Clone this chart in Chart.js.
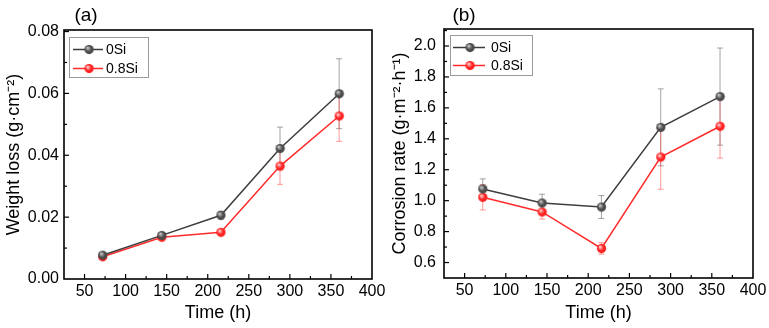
<!DOCTYPE html>
<html>
<head>
<meta charset="utf-8">
<script src="https://cdn.jsdelivr.net/npm/chart.js@4.4.1/dist/chart.umd.min.js"></script>
<style>
  html, body { margin:0; padding:0; background:#fff; }
  .wrap { position:relative; width:769px; height:328px; overflow:hidden; }
  canvas { position:absolute; top:0; }
</style>
</head>
<body>
<div class="wrap">
  <canvas id="chartA" width="385" height="328" style="left:0"></canvas>
  <canvas id="chartB" width="384" height="328" style="left:385px"></canvas>
</div>
<script>
// ---- данные ----
const times = [72, 144, 216, 288, 360];
const seriesNames = ['0Si', '0.8Si'];

const lossSi0    = [0.0077, 0.0141, 0.0206, 0.0422, 0.0599];
const lossSi0Err = [0.0004, 0.0006, 0.0013, 0.0069, 0.0113];
const lossSi8    = [0.0072, 0.0135, 0.0151, 0.0365, 0.0527];
const lossSi8Err = [0.0004, 0.0005, 0.0006, 0.0059, 0.0082];

const rateSi0    = [1.076, 0.985, 0.959, 1.474, 1.673];
const rateSi0Err = [0.065, 0.057, 0.074, 0.249, 0.314];
const rateSi8    = [1.022, 0.927, 0.691, 1.282, 1.481];
const rateSi8Err = [0.082, 0.046, 0.037, 0.208, 0.206];

const xTickLabels    = [50, 100, 150, 200, 250, 300, 350, 400];
const lossTickLabels = [0, 0.02, 0.04, 0.06, 0.08];
const rateTickLabels = [0.6, 0.8, 1.0, 1.2, 1.4, 1.6, 1.8, 2.0];

const FONT = "'Liberation Sans', Arial, sans-serif";
const ink = '#000';
const grayLine = '#3d3d3d';
const redLine = '#ff2b2b';

// маркеры-шарики
function sphere(base, light, r) {
  const c = document.createElement('canvas');
  c.width = c.height = r * 2 + 2;
  const g = c.getContext('2d');
  const cx = r + 1, cy = r + 1;
  const grd = g.createRadialGradient(cx - r * 0.35, cy - r * 0.4, r * 0.1, cx, cy, r);
  grd.addColorStop(0, light);
  grd.addColorStop(0.6, base);
  grd.addColorStop(1, base);
  g.fillStyle = grd;
  g.beginPath(); g.arc(cx, cy, r, 0, Math.PI * 2); g.fill();
  return c;
}
const dotGray = sphere('#4a4a4a', '#c8c8c8', 4.6);
const dotRed  = sphere('#ff2020', '#ffd0d0', 4.6);

const pts = vals => times.map((t, i) => ({ x: t, y: vals[i] }));
const isMajor = (v, list) => list.some(m => Math.abs(m - v) < 1e-9);

// рамка, внутренние тики, планки погрешностей, легенда, подпись панели
const decor = {
  id: 'decor',
  beforeDatasetsDraw(chart) {
    const ctx = chart.ctx, xs = chart.scales.x, ys = chart.scales.y;
    chart.data.datasets.forEach(ds => {
      if (!ds.err) return;
      ctx.save();
      ctx.strokeStyle = ds.errColor;
      ctx.lineWidth = 1;
      ds.data.forEach((p, i) => {
        const x = xs.getPixelForValue(p.x);
        const y1 = ys.getPixelForValue(p.y + ds.err[i]);
        const y2 = ys.getPixelForValue(p.y - ds.err[i]);
        ctx.beginPath();
        ctx.moveTo(x, y1); ctx.lineTo(x, y2);
        ctx.moveTo(x - 3, y1); ctx.lineTo(x + 3, y1);
        ctx.moveTo(x - 3, y2); ctx.lineTo(x + 3, y2);
        ctx.stroke();
      });
      ctx.restore();
    });
  },
  afterDraw(chart, _a, o) {
    const ctx = chart.ctx, a = chart.chartArea;
    const xs = chart.scales.x, ys = chart.scales.y;
    ctx.save();
    ctx.strokeStyle = ink;
    ctx.lineWidth = 1.2;
    // тики внутрь
    xs.ticks.forEach(t => {
      const x = xs.getPixelForValue(t.value);
      if (x <= a.left + 1 || x >= a.right - 1) return;
      const len = t.label !== '' ? 5 : 3;
      ctx.beginPath(); ctx.moveTo(x, a.bottom); ctx.lineTo(x, a.bottom - len); ctx.stroke();
    });
    ys.ticks.forEach(t => {
      const y = ys.getPixelForValue(t.value);
      if (y >= a.bottom - 1 || y <= a.top + 1) return;
      const len = t.label !== '' ? 5 : 3;
      ctx.beginPath(); ctx.moveTo(a.left, y); ctx.lineTo(a.left + len, y); ctx.stroke();
    });
    // рамка
    ctx.lineWidth = 1.6;
    ctx.strokeRect(a.left, a.top, a.right - a.left, a.bottom - a.top);

    // легенда
    const L = o.legend;
    const bx = a.left + L.dx, by = a.top + L.dy;
    ctx.lineWidth = 1;
    ctx.strokeStyle = '#9a9a9a';
    ctx.strokeRect(bx + 0.5, by + 0.5, L.w, L.h);
    chart.data.datasets.forEach((ds, i) => {
      const y = by + L.rows[i];
      ctx.strokeStyle = ds.borderColor;
      ctx.lineWidth = 1.5;
      ctx.beginPath(); ctx.moveTo(bx + L.l0, y); ctx.lineTo(bx + L.l1, y); ctx.stroke();
      const img = ds.pointStyle;
      ctx.drawImage(img, bx + L.mx - img.width / 2, y - img.height / 2);
      ctx.fillStyle = ink;
      ctx.font = `14px ${FONT}`;
      ctx.textBaseline = 'middle';
      ctx.fillText(ds.label, bx + L.tx, y + 1);
    });

    // (a) / (b)
    ctx.fillStyle = ink;
    ctx.font = `19px ${FONT}`;
    ctx.textAlign = 'center';
    ctx.textBaseline = 'middle';
    ctx.fillText(o.tag, o.tagX, 16);
    ctx.restore();
  }
};

function makeChart(el, cfg) {
  const dsStyle = (label, vals, err, color, dot, errColor) => ({
    label, data: pts(vals), err, errColor,
    borderColor: color, borderWidth: 1.5,
    pointStyle: dot, pointRadius: 5, pointHoverRadius: 5,
    tension: 0
  });
  return new Chart(el.getContext('2d'), {
    type: 'line',
    data: {
      datasets: [
        dsStyle(seriesNames[0], cfg.s0, cfg.e0, grayLine, dotGray, 'rgba(90,90,90,0.55)'),
        dsStyle(seriesNames[1], cfg.s8, cfg.e8, redLine, dotRed, 'rgba(255,70,70,0.55)')
      ]
    },
    options: {
      responsive: false,
      animation: false,
      devicePixelRatio: 1,
      layout: { padding: { top: cfg.top, right: cfg.right, left: 0, bottom: 0 } },
      plugins: {
        legend: { display: false },
        tooltip: { enabled: false },
        decor: { legend: cfg.legend, tag: cfg.tag, tagX: cfg.tagX }
      },
      scales: {
        x: {
          type: 'linear', min: 25, max: 400,
          grid: { display: false, drawTicks: false },
          border: { display: false },
          ticks: {
            stepSize: 25, autoSkip: false, maxRotation: 0, padding: 3,
            color: ink, font: { family: FONT, size: 16 },
            callback: v => isMajor(v, xTickLabels) ? String(v) : ''
          },
          title: { display: true, text: 'Time (h)', color: ink, font: { family: FONT, size: 18 }, padding: { top: 0, bottom: 4 } },
          afterFit(s) { s.height = cfg.xh; s.paddingLeft = 0; s.paddingRight = 0; }
        },
        y: {
          type: 'linear', min: cfg.ymin, max: cfg.ymax,
          grid: { display: false, drawTicks: false },
          border: { display: false },
          ticks: {
            stepSize: cfg.ystep, includeBounds: false, autoSkip: false, padding: cfg.ypad,
            color: ink, font: { family: FONT, size: 16 },
            callback: v => isMajor(v, cfg.ylabels) ? v.toFixed(cfg.dec) : ''
          },
          title: { display: true, text: cfg.ytitle, color: ink, font: { family: FONT, size: 18 }, padding: { top: cfg.ytpad, bottom: 0 } },
          afterFit(s) { s.width = cfg.yw; s.paddingTop = 0; s.paddingBottom = 0; }
        }
      }
    },
    plugins: [decor]
  });
}

makeChart(document.getElementById('chartA'), {
  s0: lossSi0, e0: lossSi0Err, s8: lossSi8, e8: lossSi8Err,
  ymin: 0, ymax: 0.0805, ystep: 0.01, dec: 2, ylabels: lossTickLabels,
  ytitle: 'Weight loss (g·cm⁻²)',
  top: 30, right: 13, yw: 64, xh: 49, ypad: 5, ytpad: 3,
  tag: '(a)', tagX: 86,
  legend: { dx: 5, dy: 7, w: 79, h: 40, rows: [12.5, 31.5], l0: 4, l1: 34, mx: 20, tx: 37 }
});

makeChart(document.getElementById('chartB'), {
  s0: rateSi0, e0: rateSi0Err, s8: rateSi8, e8: rateSi8Err,
  ymin: 0.5, ymax: 2.11, ystep: 0.1, dec: 1, ylabels: rateTickLabels,
  ytitle: 'Corrosion rate (g·m⁻²·h⁻¹)',
  top: 29, right: 16, yw: 59, xh: 50, ypad: 8, ytpad: 4,
  tag: '(b)', tagX: 79,
  legend: { dx: 6, dy: 6, w: 82, h: 40, rows: [12.5, 30.5], l0: 3, l1: 35, mx: 20, tx: 41 }
});
</script>
</body>
</html>
